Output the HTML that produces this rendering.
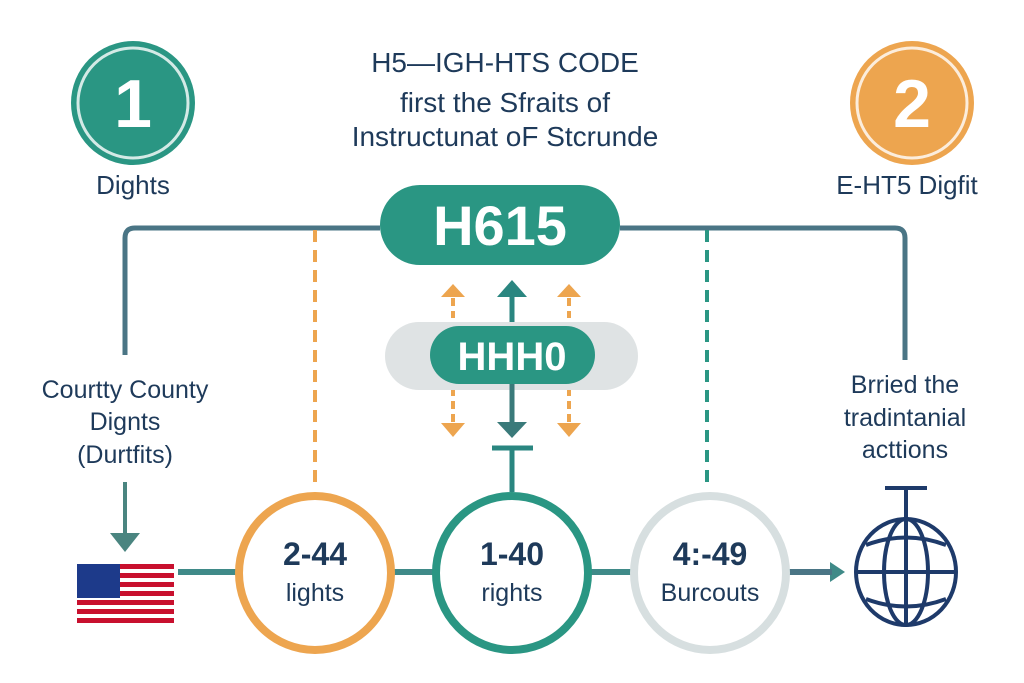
<!DOCTYPE html>
<html><head><meta charset="utf-8"><style>
html,body{margin:0;padding:0;background:#fff;}
svg{display:block;}
text{font-family:"Liberation Sans",sans-serif;}
</style></head><body>
<svg width="1024" height="683" viewBox="0 0 1024 683" xmlns="http://www.w3.org/2000/svg">
<rect width="1024" height="683" fill="#fff"/>
<!-- badges -->
<circle cx="133" cy="103" r="62" fill="#2a9683"/>
<circle cx="133" cy="103" r="55" fill="none" stroke="#fff" stroke-width="3" opacity="0.8"/>
<text x="133" y="127" font-size="68" font-weight="bold" fill="#fff" text-anchor="middle">1</text>
<text x="133" y="194" font-size="26" fill="#1e3a5a" text-anchor="middle">Dights</text>
<circle cx="912" cy="103" r="62" fill="#eda54f"/>
<circle cx="912" cy="103" r="55" fill="none" stroke="#fff" stroke-width="3" opacity="0.8"/>
<text x="912" y="127" font-size="68" font-weight="bold" fill="#fff" text-anchor="middle">2</text>
<text x="907" y="194" font-size="26" fill="#1e3a5a" text-anchor="middle">E-HT5 Digfit</text>
<!-- title -->
<g font-size="28" fill="#1e3a5a" text-anchor="middle">
<text x="505" y="72">H5—IGH-HTS CODE</text>
<text x="505" y="112">first the Sfraits of</text>
<text x="505" y="146">Instructunat oF Stcrunde</text>
</g>
<!-- connector lines -->
<path d="M380 228 H135 Q125 228 125 238 V355" fill="none" stroke="#4a7585" stroke-width="5"/>
<path d="M620 228 H895 Q905 228 905 238 V360" fill="none" stroke="#4a7585" stroke-width="5"/>
<line x1="315" y1="230" x2="315" y2="482" stroke="#eda54f" stroke-width="4" stroke-dasharray="12,8"/>
<line x1="707" y1="230" x2="707" y2="490" stroke="#2a9683" stroke-width="4" stroke-dasharray="12,8"/>
<!-- main pill -->
<rect x="380" y="185" width="240" height="80" rx="40" fill="#2a9683"/>
<text x="500" y="245" font-size="56" font-weight="bold" fill="#fff" text-anchor="middle">H615</text>
<!-- arrows -->
<g fill="#eda54f" stroke="#eda54f">
<line x1="453" y1="298" x2="453" y2="318" stroke-width="4" stroke-dasharray="8,5"/>
<polygon points="441,297 465,297 453,284" stroke="none"/>
<line x1="569" y1="298" x2="569" y2="318" stroke-width="4" stroke-dasharray="8,5"/>
<polygon points="557,297 581,297 569,284" stroke="none"/>
<line x1="453" y1="388" x2="453" y2="422" stroke-width="4" stroke-dasharray="8,5"/>
<polygon points="441,423 465,423 453,437" stroke="none"/>
<line x1="569" y1="388" x2="569" y2="422" stroke-width="4" stroke-dasharray="8,5"/>
<polygon points="557,423 581,423 569,437" stroke="none"/>
</g>
<line x1="512" y1="295" x2="512" y2="330" stroke="#2a8680" stroke-width="5"/>
<polygon points="497,297 527,297 512,280" fill="#2a8680"/>
<rect x="385" y="322" width="253" height="68" rx="34" fill="#dfe3e4"/>
<rect x="430" y="326" width="165" height="58" rx="29" fill="#2a9683"/>
<text x="512" y="370" font-size="40" font-weight="bold" fill="#fff" text-anchor="middle">HHH0</text>
<line x1="512" y1="384" x2="512" y2="425" stroke="#3a7a7a" stroke-width="5"/>
<polygon points="497,422 527,422 512,438" fill="#3a7a7a"/>
<line x1="492" y1="448" x2="533" y2="448" stroke="#2a8680" stroke-width="5"/>
<line x1="512" y1="448" x2="512" y2="492" stroke="#2a8680" stroke-width="5"/>
<!-- side labels -->
<g font-size="25" fill="#1e3a5a" text-anchor="middle">
<text x="125" y="398">Courtty County</text>
<text x="125" y="430">Dignts</text>
<text x="125" y="463">(Durtfits)</text>
<text x="905" y="393">Brried the</text>
<text x="905" y="426">tradintanial</text>
<text x="905" y="458">acttions</text>
</g>
<line x1="125" y1="482" x2="125" y2="535" stroke="#4a8580" stroke-width="4"/>
<polygon points="110,533 140,533 125,552" fill="#4a8580"/>
<!-- flag -->
<g>
<rect x="77" y="564" width="97" height="62" fill="#fff"/>
<g fill="#c8102e">
<rect x="77" y="564" width="97" height="5"/><rect x="77" y="573" width="97" height="5"/><rect x="77" y="582" width="97" height="5"/><rect x="77" y="591" width="97" height="5"/><rect x="77" y="600" width="97" height="5"/><rect x="77" y="609" width="97" height="5"/><rect x="77" y="618" width="97" height="5"/>
</g>
<rect x="77" y="564" width="43" height="34" fill="#1d3a8a"/>
</g>
<!-- main line -->
<line x1="178" y1="572" x2="840" y2="572" stroke="#3f8a88" stroke-width="6"/>
<polygon points="830,562 830,582 845,572" fill="#3f8a88"/>
<line x1="790" y1="572" x2="832" y2="572" stroke="#4a7585" stroke-width="6"/>
<!-- circles -->
<ellipse cx="315" cy="573" rx="76" ry="77" fill="#fff" stroke="#eda54f" stroke-width="8"/>
<ellipse cx="512" cy="573" rx="76" ry="77" fill="#fff" stroke="#2a9683" stroke-width="8"/>
<ellipse cx="710" cy="573" rx="76" ry="77" fill="#fff" stroke="#d7dfe0" stroke-width="8"/>
<g fill="#1e3a5a" text-anchor="middle">
<text x="315" y="565" font-size="32" font-weight="bold">2-44</text>
<text x="315" y="601" font-size="25">lights</text>
<text x="512" y="565" font-size="32" font-weight="bold">1-40</text>
<text x="512" y="601" font-size="25">rights</text>
<text x="710" y="565" font-size="32" font-weight="bold">4:-49</text>
<text x="710" y="601" font-size="25">Burcouts</text>
</g>
<!-- globe -->
<g fill="none" stroke="#1e3a6a" stroke-width="4">
<line x1="885" y1="488" x2="927" y2="488"/>
<line x1="906" y1="488" x2="906" y2="520"/>
<ellipse cx="906" cy="572" rx="50" ry="53"/>
<ellipse cx="906" cy="572" rx="22" ry="53"/>
<line x1="906" y1="519" x2="906" y2="625"/>
<line x1="856" y1="572" x2="956" y2="572"/>
<path d="M866 545 Q906 530 946 545"/>
<path d="M866 599 Q906 614 946 599"/>
</g>
</svg>
</body></html>
